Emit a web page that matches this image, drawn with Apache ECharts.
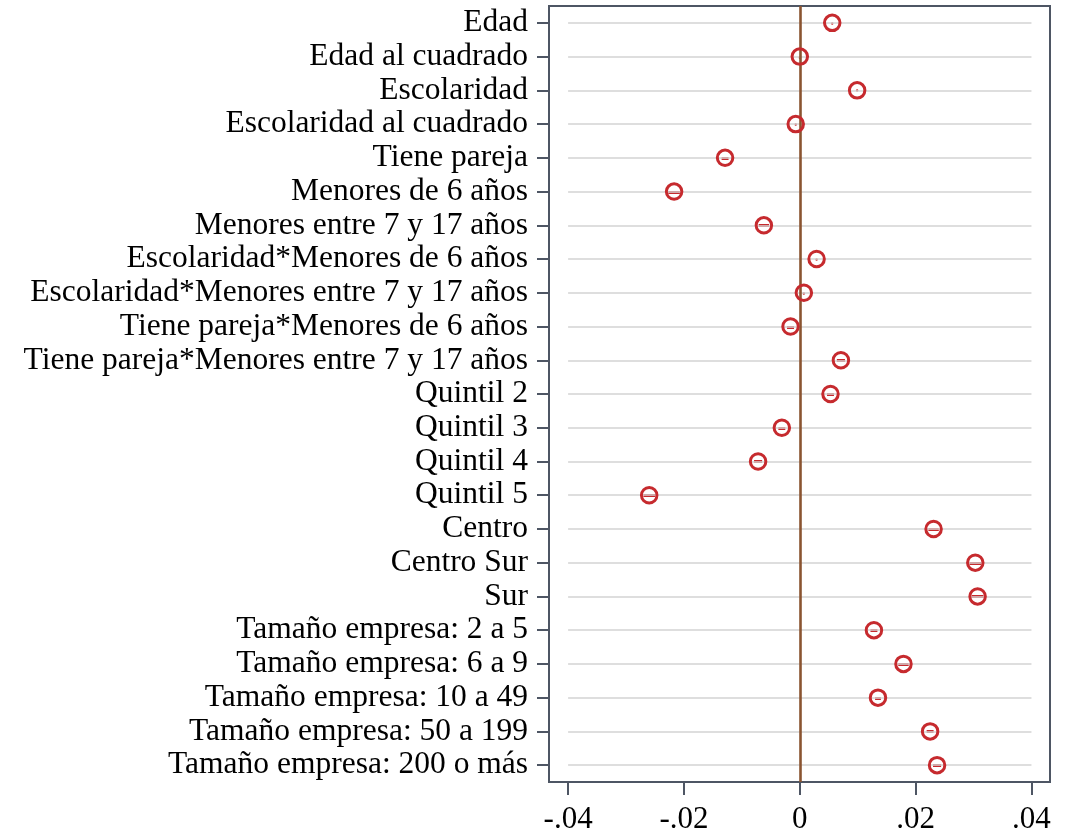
<!DOCTYPE html>
<html>
<head>
<meta charset="utf-8">
<script src="https://cdn.jsdelivr.net/npm/echarts@6/dist/echarts.min.js"></script>
<style>
html,body{margin:0;padding:0;background:#fff;}
#c{width:1074px;height:834px;}
</style>
</head>
<body>
<div id="c"></div>
<script>
var categories = [
  'Edad','Edad al cuadrado','Escolaridad','Escolaridad al cuadrado','Tiene pareja',
  'Menores de 6 años','Menores entre 7 y 17 años','Escolaridad*Menores de 6 años',
  'Escolaridad*Menores entre 7 y 17 años','Tiene pareja*Menores de 6 años',
  'Tiene pareja*Menores entre 7 y 17 años','Quintil 2','Quintil 3','Quintil 4','Quintil 5',
  'Centro','Centro Sur','Sur','Tamaño empresa: 2 a 5','Tamaño empresa: 6 a 9',
  'Tamaño empresa: 10 a 49','Tamaño empresa: 50 a 199','Tamaño empresa: 200 o más'
];
var coefs = [
  0.0056, 0.0000, 0.0099, -0.0007, -0.0129,
  -0.0217, -0.0062, 0.0029,
  0.0007, -0.0016,
  0.0071, 0.0053, -0.0031, -0.0072, -0.0260,
  0.0231, 0.0303, 0.0307, 0.0128, 0.0179,
  0.0135, 0.0225, 0.0237
];
var ciLow = [
  0.0056, 0.0000, 0.0099, -0.0007, -0.0135,
  -0.0227, -0.0071, 0.0029,
  0.0007, -0.0022,
  0.0064, 0.0047, -0.0037, -0.0079, -0.0270,
  0.0222, 0.0293, 0.0297, 0.0122, 0.0170,
  0.0130, 0.0219, 0.0230
];
var ciHigh = [
  0.0056, 0.0000, 0.0099, -0.0007, -0.0123,
  -0.0207, -0.0053, 0.0029,
  0.0007, -0.0010,
  0.0078, 0.0059, -0.0025, -0.0065, -0.0250,
  0.0240, 0.0313, 0.0317, 0.0134, 0.0188,
  0.0140, 0.0231, 0.0244
];
var xTicks = [-0.04, -0.02, 0, 0.02, 0.04];
var xTickLabels = ['-.04', '-.02', '0', '.02', '.04'];

var RED = '#c62a2e';
var FRAME = '#4e5664';
var FONT = '"Liberation Serif", "DejaVu Serif", serif';

var gridLines = categories.map(function (c) {
  return [{ coord: [xTicks[0], c] }, { coord: [xTicks[xTicks.length - 1], c] }];
});

var chart = echarts.init(document.getElementById('c'), null, { renderer: 'canvas' });
chart.setOption({
  backgroundColor: '#ffffff',
  animation: false,
  grid: {
    left: 549, right: 24, top: 6, bottom: 52,
    containLabel: false, outerBoundsMode: 'none',
    show: true, borderColor: FRAME, borderWidth: 2, backgroundColor: 'transparent'
  },
  xAxis: {
    type: 'value',
    min: -0.0433, max: 0.0432,
    axisLine: { show: false, onZero: false },
    splitLine: { show: false },
    axisTick: { show: true, length: 13, inside: false, customValues: xTicks,
      lineStyle: { color: FRAME, width: 2 } },
    axisLabel: {
      customValues: xTicks,
      margin: 22,
      color: '#000', fontFamily: FONT, fontSize: 31,
      formatter: function (v) {
        for (var i = 0; i < xTicks.length; i++) {
          if (Math.abs(xTicks[i] - v) < 1e-9) return xTickLabels[i];
        }
        return '';
      }
    }
  },
  yAxis: {
    type: 'category',
    data: categories,
    inverse: true,
    boundaryGap: true,
    axisLine: { show: false, onZero: false },
    splitLine: { show: false },
    axisTick: { show: true, alignWithLabel: true, length: 12,
      lineStyle: { color: FRAME, width: 2 } },
    axisLabel: { margin: 21, color: '#000', fontFamily: FONT, fontSize: 31.5, interval: 0 }
  },
  series: [
    {
      type: 'scatter',
      name: 'grid',
      data: [],
      silent: true,
      markLine: {
        silent: true, symbol: ['none', 'none'], label: { show: false },
        lineStyle: { color: '#d3d3d3', width: 1.6, type: 'solid', opacity: 1 },
        data: gridLines
      }
    },
    {
      type: 'scatter',
      name: 'zero',
      data: [],
      silent: true,
      markLine: {
        silent: true, symbol: ['none', 'none'], label: { show: false },
        lineStyle: { color: '#8a5430', width: 2.6, type: 'solid', opacity: 1 },
        data: [{ xAxis: 0 }]
      }
    },
    {
      type: 'custom',
      name: 'ci',
      z: 4,
      data: categories.map(function (c, i) { return [ciLow[i], ciHigh[i], i]; }),
      renderItem: function (params, api) {
        var lo = api.coord([api.value(0), api.value(2)]);
        var hi = api.coord([api.value(1), api.value(2)]);
        var cy = Math.round(lo[1]) + 0.5;
        if (hi[0] - lo[0] < 0.5) {
          return { type: 'circle', shape: { cx: lo[0], cy: cy, r: 1.2 }, style: { fill: RED } };
        }
        return {
          type: 'line',
          shape: { x1: lo[0], y1: cy, x2: hi[0], y2: cy },
          style: { stroke: RED, lineWidth: 3 }
        };
      }
    },
    {
      type: 'scatter',
      name: 'coef',
      z: 5,
      symbol: 'circle',
      symbolSize: 15.5,
      itemStyle: { color: 'transparent', borderColor: RED, borderWidth: 3, opacity: 1 },
      data: categories.map(function (c, i) { return [coefs[i], c]; })
    }
  ]
});
</script>
</body>
</html>
